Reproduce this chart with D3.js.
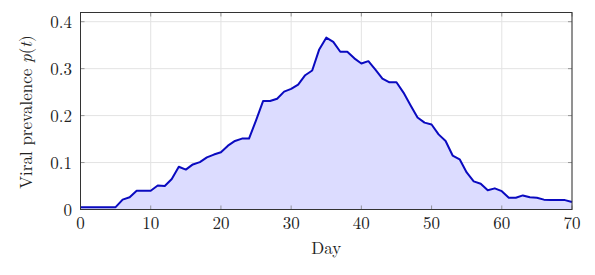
<!DOCTYPE html>
<html>
<head>
<meta charset="utf-8">
<script src="https://cdn.jsdelivr.net/npm/d3@7"></script>
<style>
  body { margin: 0; background: #fff; }
  text { font-family: "Latin Modern Roman", "Liberation Serif", serif; fill: #222; }
</style>
</head>
<body>
<svg id="chart" width="595" height="275"></svg>
<script>
// days 0..70 and prevalence
const days = d3.range(0, 71);
const prevalence = [
  0.005, 0.005, 0.005, 0.005, 0.005, 0.005, 0.021, 0.026, 0.040, 0.040,
  0.040, 0.051, 0.050, 0.065, 0.091, 0.085, 0.096, 0.101, 0.111, 0.117,
  0.122, 0.136, 0.146, 0.151, 0.151, 0.190, 0.231, 0.231, 0.236, 0.251,
  0.257, 0.266, 0.286, 0.296, 0.341, 0.366, 0.357, 0.336, 0.336, 0.322,
  0.311, 0.316, 0.298, 0.279, 0.271, 0.271, 0.249, 0.222, 0.196, 0.185,
  0.181, 0.160, 0.146, 0.115, 0.107, 0.079, 0.060, 0.055, 0.041, 0.045,
  0.039, 0.025, 0.025, 0.030, 0.026, 0.025, 0.021, 0.020, 0.020, 0.020,
  0.016
];
const xTicks = [0, 10, 20, 30, 40, 50, 60, 70];
const yTicks = [0, 0.1, 0.2, 0.3, 0.4];

const svg = d3.select("#chart");
const mLeft = 80.5, mRight = 572, mTop = 12.5, mBottom = 209.5;

let x = d3.scaleLinear().domain([0, 70]).range([mLeft, mRight]);
let y = d3.scaleLinear().domain([0, 0.4]).range([mBottom, 21.7]);

// grid
svg.append("g").selectAll("line").data(xTicks).enter().append("line")
  .attr("x1", d => x(d)).attr("x2", d => x(d))
  .attr("y1", mTop).attr("y2", mBottom)
  .attr("stroke", "#e3e3e3").attr("stroke-width", 1);
svg.append("g").selectAll("line").data(yTicks).enter().append("line")
  .attr("x1", mLeft).attr("x2", mRight)
  .attr("y1", d => y(d)).attr("y2", d => y(d))
  .attr("stroke", "#e3e3e3").attr("stroke-width", 1);

let pts = days.map((d, i) => [d, prevalence[i]]);

svg.append("path").datum(pts)
  .attr("d", d3.area().x(d => x(d[0])).y0(y(0)).y1(d => y(d[1])))
  .attr("fill", "#dcdcff");

svg.append("path").datum(pts)
  .attr("d", d3.line().x(d => x(d[0])).y(d => y(d[1])))
  .attr("fill", "none").attr("stroke", "#0a0ac0")
  .attr("stroke-width", 2).attr("stroke-linejoin", "round");

// inward ticks on all four sides
let tickLen = 4;
let ticks = svg.append("g").attr("stroke", "#808080").attr("stroke-width", 0.8);
xTicks.forEach(t => {
  ticks.append("line").attr("x1", x(t)).attr("x2", x(t)).attr("y1", mBottom).attr("y2", mBottom - tickLen);
  ticks.append("line").attr("x1", x(t)).attr("x2", x(t)).attr("y1", mTop).attr("y2", mTop + tickLen);
});
yTicks.forEach(t => {
  ticks.append("line").attr("x1", mLeft).attr("x2", mLeft + tickLen).attr("y1", y(t)).attr("y2", y(t));
  ticks.append("line").attr("x1", mRight).attr("x2", mRight - tickLen).attr("y1", y(t)).attr("y2", y(t));
});

// frame
svg.append("rect")
  .attr("x", mLeft).attr("y", mTop)
  .attr("width", mRight - mLeft).attr("height", mBottom - mTop)
  .attr("fill", "none").attr("stroke", "#333").attr("stroke-width", 1);

// tick labels
svg.append("g").selectAll("text").data(xTicks).enter().append("text")
  .attr("x", d => x(d)).attr("y", 229)
  .attr("text-anchor", "middle").attr("font-size", 17)
  .text(d => d);
svg.append("g").selectAll("text").data(yTicks).enter().append("text")
  .attr("x", 72).attr("y", d => y(d) + 6)
  .attr("text-anchor", "end").attr("font-size", 17)
  .text(d => d === 0 ? "0" : d3.format(".1f")(d));

// axis labels
svg.append("text")
  .attr("x", (mLeft + mRight) / 2).attr("y", 254)
  .attr("text-anchor", "middle").attr("font-size", 17)
  .text("Day");

let ylab = svg.append("text")
  .attr("transform", "translate(32,112) rotate(-90)")
  .attr("text-anchor", "middle").attr("font-size", 17);
ylab.append("tspan").text("Viral prevalence ");
ylab.append("tspan").attr("font-style", "italic").text("p");
ylab.append("tspan").text("(");
ylab.append("tspan").attr("font-style", "italic").text("t");
ylab.append("tspan").text(")");
</script>
</body>
</html>
